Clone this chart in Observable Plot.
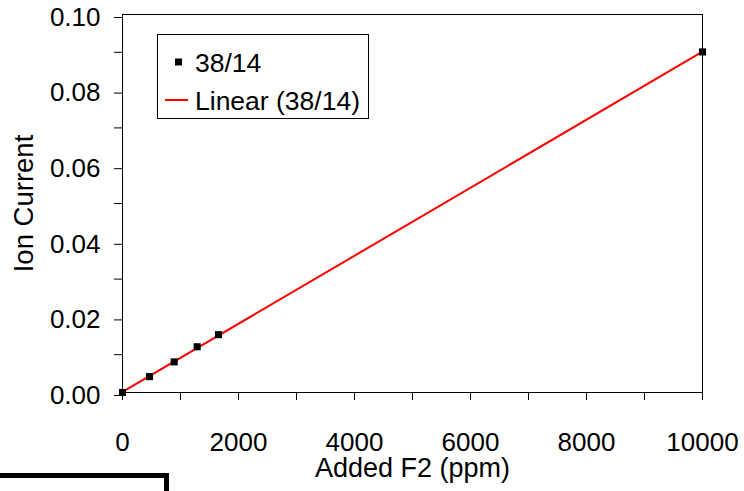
<!DOCTYPE html>
<html>
<head>
<meta charset="utf-8">
<script src="https://cdn.jsdelivr.net/npm/d3@7"></script>
<script src="https://cdn.jsdelivr.net/npm/@observablehq/plot@0.6"></script>
<style>
  html, body { margin: 0; padding: 0; background: white; }
  #wrap { position: relative; width: 744px; height: 491px; overflow: hidden; font-family: "Liberation Sans", Arial, sans-serif; }
  #legend { position: absolute; left: 157px; top: 34px; }
  #corner { position: absolute; left: -10px; top: 473px; width: 179px; height: 40px; box-sizing: border-box; border-top: 5px solid black; border-right: 5px solid black; }
</style>
</head>
<body>
<div id="wrap"></div>
<script>
// Data
const addedF2 = [0, 466, 891, 1288, 1655, 10000];
const ionCurrent = [0.0000, 0.0042, 0.0081, 0.0121, 0.0153, 0.0901];
const seriesName = "38/14";
const fitName = "Linear (38/14)";

const xTicks = [0, 2000, 4000, 6000, 8000, 10000];
const xMinorTicks = [1000, 3000, 5000, 7000, 9000];
const yTicks = [0, 0.02, 0.04, 0.06, 0.08, 0.10];
const yMinorTicks = [0.01, 0.03, 0.05, 0.07, 0.09];

const xTitle = "Added F2 (ppm)";
const yTitle = "Ion Current";

const data = addedF2.map((x, i) => ({x, y: ionCurrent[i]}));

const font = "'Liberation Sans', Arial, sans-serif";

const chart = Plot.plot({
  width: 744,
  height: 491,
  marginLeft: 122,
  marginRight: 42,
  marginTop: 14,
  marginBottom: 99,
  style: {fontFamily: font, fontSize: "26px", background: "white", color: "black", overflow: "visible"},
  x: {domain: [0, 10000]},
  y: {domain: [0, 0.1]},
  marks: [
    Plot.frame({stroke: "black"}),
    Plot.axisX({ticks: xTicks, tickSize: 8, tickPadding: 32, tickFormat: d3.format("d"), label: null}),
    Plot.axisX({ticks: xMinorTicks, tickSize: 8, tickFormat: () => "", label: null}),
    Plot.axisY({ticks: yTicks, tickSize: 8, tickPadding: 14, tickFormat: d3.format(".2f"), dy: 3, label: null}),
    Plot.axisY({ticks: yMinorTicks, tickSize: 8, tickFormat: () => "", label: null}),
    Plot.text([xTitle], {frameAnchor: "bottom", textAnchor: "middle", lineAnchor: "bottom", dy: 84, fontSize: 27}),
    Plot.text([yTitle], {frameAnchor: "left", textAnchor: "middle", lineAnchor: "middle", rotate: -90, dx: -98, fontSize: 27.5}),
    Plot.linearRegressionY(data, {x: "x", y: "y", stroke: "#ff0000", strokeWidth: 2, ci: 0}),
    Plot.dot(data, {x: "x", y: "y", symbol: "square", r: 4, fill: "black", stroke: null})
  ]
});

const wrap = document.getElementById("wrap");
wrap.appendChild(chart);

// Legend
const legend = d3.create("svg")
  .attr("id", "legend")
  .attr("width", 212)
  .attr("height", 86)
  .style("font-family", font)
  .style("font-size", "26.5px");
legend.append("rect").attr("x", 0.5).attr("y", 0.5).attr("width", 211).attr("height", 84)
  .attr("fill", "white").attr("stroke", "black");
legend.append("rect").attr("x", 18).attr("y", 24.5).attr("width", 7).attr("height", 7).attr("fill", "black");
legend.append("text").attr("x", 38).attr("y", 38).text(seriesName);
legend.append("line").attr("x1", 8).attr("x2", 31).attr("y1", 66).attr("y2", 66)
  .attr("stroke", "#ff0000").attr("stroke-width", 2);
legend.append("text").attr("x", 38).attr("y", 76).text(fitName);
wrap.appendChild(legend.node());

const corner = document.createElement("div");
corner.id = "corner";
wrap.appendChild(corner);
</script>
</body>
</html>
